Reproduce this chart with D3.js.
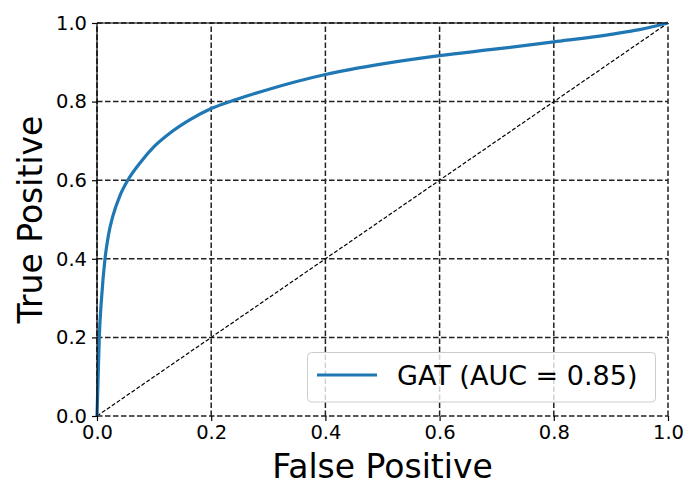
<!DOCTYPE html>
<html>
<head>
  <meta charset="utf-8">
  <script src="https://d3js.org/d3.v7.min.js"></script>
  <style>
    body { margin: 0; background: #fff; }
    text { font-family: "DejaVu Sans", sans-serif; fill: #000; }
  </style>
</head>
<body>
  <div id="chart"></div>
  <script>
    // ROC curve points
    var fpr = [0, 0.001, 0.002, 0.004, 0.008, 0.014, 0.02, 0.028, 0.04, 0.054, 0.076, 0.099, 0.128, 0.163, 0.201, 0.245, 0.3, 0.4, 0.5, 0.6, 0.7, 0.8, 0.9, 0.95, 1.0];
    var tpr = [0, 0.05, 0.1, 0.2, 0.3, 0.4, 0.46, 0.51, 0.56, 0.6, 0.645, 0.684, 0.72, 0.754, 0.783, 0.806, 0.831, 0.869, 0.896, 0.917, 0.934, 0.952, 0.971, 0.983, 1.0];
    var ticks = [0, 0.2, 0.4, 0.6, 0.8, 1.0];
    var seriesLabel = "GAT (AUC = 0.85)";

    var data = fpr.map((x, i) => ({ x: x, y: tpr[i] }));

    var svg = d3.select("#chart")
                .append("svg")
                .attr("width", 700)
                .attr("height", 500);

    var margin = { top: 23, right: 32, bottom: 84, left: 97 };
    var width = 700 - margin.left - margin.right;
    var height = 500 - margin.top - margin.bottom;

    var xScale = d3.scaleLinear().domain([0, 1]).range([margin.left, margin.left + width]);
    var yScale = d3.scaleLinear().domain([0, 1]).range([margin.top + height, margin.top]);

    // grid
    svg.append("g").selectAll("line.vgrid")
       .data(ticks).enter().append("line")
       .attr("x1", d => xScale(d)).attr("x2", d => xScale(d))
       .attr("y1", yScale(0)).attr("y2", yScale(1))
       .attr("stroke", "#222").attr("stroke-width", 1.5)
       .attr("stroke-dasharray", "5.5,2.5");

    svg.append("g").selectAll("line.hgrid")
       .data(ticks).enter().append("line")
       .attr("x1", xScale(0)).attr("x2", xScale(1))
       .attr("y1", d => yScale(d)).attr("y2", d => yScale(d))
       .attr("stroke", "#222").attr("stroke-width", 1.5)
       .attr("stroke-dasharray", "5.5,2.5");

    // chance diagonal
    svg.append("line")
       .attr("x1", xScale(0)).attr("y1", yScale(0))
       .attr("x2", xScale(1)).attr("y2", yScale(1))
       .attr("stroke", "#000").attr("stroke-width", 1.2)
       .attr("stroke-dasharray", "4,2");

    // ROC curve
    var line = d3.line()
                 .x(d => xScale(d.x))
                 .y(d => yScale(d.y))
                 .curve(d3.curveMonotoneX);

    svg.append("path")
       .datum(data)
       .attr("fill", "none")
       .attr("stroke", "#1f77b4")
       .attr("stroke-width", 3.2)
       .attr("stroke-linejoin", "round")
       .attr("d", line);

    // left and top spines
    svg.append("line")
       .attr("x1", xScale(0)).attr("x2", xScale(0))
       .attr("y1", yScale(0)).attr("y2", yScale(1))
       .attr("stroke", "#000").attr("stroke-width", 1.2);
    svg.append("line")
       .attr("x1", xScale(0)).attr("x2", xScale(1))
       .attr("y1", yScale(1)).attr("y2", yScale(1))
       .attr("stroke", "#000").attr("stroke-width", 1.2);

    // axes
    var xAxis = svg.append("g")
       .attr("transform", `translate(0, ${yScale(0)})`)
       .call(d3.axisBottom(xScale).tickValues(ticks).tickFormat(d3.format(".1f")).tickSize(5).tickPadding(4));
    var yAxis = svg.append("g")
       .attr("transform", `translate(${xScale(0)}, 0)`)
       .call(d3.axisLeft(yScale).tickValues(ticks).tickFormat(d3.format(".1f")).tickSize(5).tickPadding(5));

    [xAxis, yAxis].forEach(function (ax) {
      ax.select(".domain").remove();
      ax.selectAll(".tick line").attr("stroke", "#000").attr("stroke-width", 1.2);
      ax.selectAll(".tick text")
        .style("font-family", "DejaVu Sans")
        .style("font-size", "19.5px")
        .attr("fill", "#000");
    });

    // axis labels
    svg.append("text")
       .attr("x", xScale(0.5))
       .attr("y", 478)
       .style("text-anchor", "middle")
       .style("font-size", "33px")
       .text("False Positive");

    svg.append("text")
       .attr("transform", "rotate(-90)")
       .attr("x", -(yScale(0.5)))
       .attr("y", 42)
       .style("text-anchor", "middle")
       .style("font-size", "33px")
       .text("True Positive");

    // legend
    var legend = svg.append("g");
    legend.append("rect")
       .attr("x", 307.5).attr("y", 352.5)
       .attr("width", 348).attr("height", 49.5)
       .attr("rx", 4).attr("ry", 4)
       .attr("fill", "#fff").attr("fill-opacity", 0.8)
       .attr("stroke", "#ccc").attr("stroke-width", 1);
    legend.append("line")
       .attr("x1", 317).attr("x2", 377)
       .attr("y1", 375).attr("y2", 375)
       .attr("stroke", "#1f77b4").attr("stroke-width", 3.2);
    legend.append("text")
       .attr("x", 397).attr("y", 385)
       .style("font-size", "27px")
       .text(seriesLabel);
  </script>
</body>
</html>
